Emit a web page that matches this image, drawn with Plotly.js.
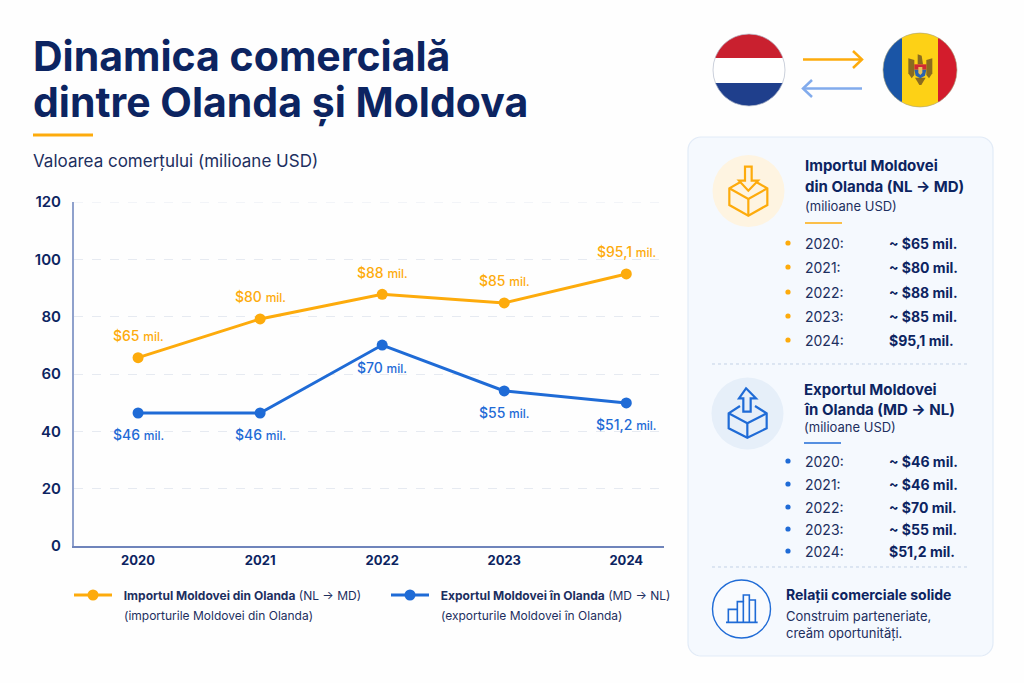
<!DOCTYPE html>
<html><head><meta charset="utf-8">
<script src="https://cdn.plot.ly/plotly-3.0.1.min.js"></script>
<style>html,body{margin:0;padding:0;background:#fefefe}#c{width:1024px;height:683px}</style>
</head><body><div id="c"></div>
<script>
const years = [2020, 2021, 2022, 2023, 2024];
const importValues = [65.7, 79.2, 87.8, 84.8, 94.9];
const exportValues = [46.4, 46.4, 70.1, 54.1, 49.9];
const importLabels = ['$65', '$80', '$88', '$85', '$95,1'];
const exportLabels = ['$46', '$46', '$70', '$55', '$51,2'];
const importPanel = ['~ $65 mil.', '~ $80 mil.', '~ $88 mil.', '~ $85 mil.', '$95,1 mil.'];
const exportPanel = ['~ $46 mil.', '~ $46 mil.', '~ $70 mil.', '~ $55 mil.', '$51,2 mil.'];
const yTicks = [0, 20, 40, 60, 80, 100, 120];

const W = 1024, H = 683;
const FONT = 'Inter, "Noto Sans", sans-serif';
const NAVY = '#0c2461', INK = '#1d2f5f', ORANGE = '#fdab0c', BLUE = '#1f6bd6', GRID = '#e6eaf1';
const px = x => x / W, py = y => 1 - y / H;
const shapes = [], annotations = [];

function poly(pts, o) {
  o = o || {};
  const d = pts.map((p, i) => (i ? 'L' : 'M') + px(p[0]).toFixed(5) + ' ' + py(p[1]).toFixed(5)).join(' ') + (o.close ? ' Z' : '');
  shapes.push({type: 'path', xref: 'paper', yref: 'paper', path: d, layer: o.layer || 'below',
    fillcolor: o.fill || 'rgba(0,0,0,0)', line: {color: o.color || 'rgba(0,0,0,0)', width: o.width === undefined ? 0 : o.width, dash: o.dash || 'solid'}});
}
function circle(cx, cy, r, o) {
  shapes.push({type: 'circle', xref: 'paper', yref: 'paper', x0: px(cx - r), x1: px(cx + r), y0: py(cy + r), y1: py(cy - r), layer: o.layer || 'below',
    fillcolor: o.fill || 'rgba(0,0,0,0)', line: {color: o.color || 'rgba(0,0,0,0)', width: o.width || 0}});
}
function text(x, y, s, size, color, extra) {
  annotations.push(Object.assign({xref: 'paper', yref: 'paper', x: px(x), y: py(y), text: s, showarrow: false, xanchor: 'left', yanchor: 'middle', align: 'left',
    borderpad: 0, font: {family: FONT, size, color}}, extra || {}));
}
function band(cx, cy, r, a0, a1, axis, fill) {
  const pts = [], n = 24;
  const edge = v => Math.sqrt(Math.max(0, r * r - v * v));
  for (let i = 0; i <= n; i++) { const v = a0 + (a1 - a0) * i / n; pts.push(axis === 'y' ? [cx - edge(v - cy), v] : [v, cy - edge(v - cx)]); }
  for (let i = n; i >= 0; i--) { const v = a0 + (a1 - a0) * i / n; pts.push(axis === 'y' ? [cx + edge(v - cy), v] : [v, cy + edge(v - cx)]); }
  poly(pts, {fill, close: true});
}
const rounded = (x0, y0, x1, y1, r) => {
  const pts = [], arc = (cx, cy, a0) => { for (let i = 0; i <= 8; i++) { const a = a0 + i / 8 * Math.PI / 2; pts.push([cx + r * Math.cos(a), cy + r * Math.sin(a)]); } };
  arc(x1 - r, y0 + r, -Math.PI / 2); arc(x1 - r, y1 - r, 0); arc(x0 + r, y1 - r, Math.PI / 2); arc(x0 + r, y0 + r, Math.PI);
  return pts;
};

// Title block
text(32, 55.5, '<b>Dinamica comercială</b>', 41, NAVY);
text(32, 101.5, '<b>dintre Olanda și Moldova</b>', 41, NAVY);
poly([[33, 135], [93, 135]], {color: ORANGE, width: 3});
text(32, 161, 'Valoarea comerțului (milioane USD)', 17, INK);

// Top gridline (Plotly drops a gridline lying on the range end)
shapes.push({type: 'line', xref: 'paper', yref: 'y', x0: px(74), x1: px(664), y0: 120, y1: 120, layer: 'below', line: {color: GRID, width: 1, dash: 'dash'}});

// Flags
band(749, 70, 36, 34, 58, 'y', '#c9202f');
band(749, 70, 36, 58, 83, 'y', '#ffffff');
band(749, 70, 36, 83, 106, 'y', '#1f3f8c');
circle(749, 70, 36, {color: '#b4bbcc', width: 0.7});
band(920, 70, 37, 883, 902, 'x', '#1a55a6');
band(920, 70, 37, 902, 938, 'x', '#fdd116');
band(920, 70, 37, 938, 957, 'x', '#d31c2c');
circle(920, 70, 37, {color: '#a9a27e', width: 0.6});
const ca = p => [895 + p[0] / 3, 45 + p[1] / 3];
const GOLD = '#8a6b20';
poly([[40, 40], [58, 45], [58, 90], [50, 100], [40, 85]].map(ca), {fill: GOLD, close: true});
poly([[112, 40], [94, 45], [94, 90], [102, 100], [112, 85]].map(ca), {fill: GOLD, close: true});
poly([[68, 28], [80, 32], [84, 58], [68, 58]].map(ca), {fill: GOLD, close: true});
poly([[60, 98], [92, 98], [79, 120], [73, 120]].map(ca), {fill: GOLD, close: true});
poly([[58, 58], [94, 58], [94, 74], [58, 74]].map(ca), {fill: '#cf2a33', close: true});
poly([[58, 74], [94, 74], [90, 92], [76, 100], [62, 92]].map(ca), {fill: '#2a62b0', close: true});
poly([[70, 66], [82, 66], [82, 84], [76, 90], [70, 84]].map(ca), {fill: '#e9c45a', close: true});

// Arrows between flags
poly([[803, 59.5], [861, 59.5]], {color: ORANGE, width: 2.5});
poly([[853, 51], [862, 59.5], [853, 68]], {color: ORANGE, width: 2.5});
poly([[862, 88.5], [804, 88.5]], {color: '#82abec', width: 2.5});
poly([[812, 80], [803, 88.5], [812, 97]], {color: '#82abec', width: 2.5});

// Side panel
poly(rounded(688, 137, 993, 656, 13), {fill: '#f5f9fe', color: '#e2ebf7', width: 1.2, close: true});

// Import icon
const zi = p => [690 + p[0] / 3, 20 + p[1] / 3];
circle(748.5, 191, 36, {fill: '#fef4e1'});
const io = {color: ORANGE, width: 2.2};
poly([[165, 440], [185, 440], [185, 482], [204, 482], [175, 512], [147, 482], [165, 482]].map(zi), Object.assign({close: true}, io));
poly([[150, 487], [118, 505], [118, 555], [175, 587], [232, 555], [232, 505], [200, 487]].map(zi), io);
poly([[118, 505], [175, 537], [232, 505]].map(zi), io);
poly([[175, 537], [175, 587]].map(zi), io);

text(803.5, 166, '<b>Importul Moldovei</b>', 15, NAVY);
text(803.5, 186, '<b>din Olanda (NL → MD)</b>', 15, NAVY);
text(803.5, 206, '(milioane USD)', 13, INK);
poly([[805, 223], [842, 223]], {color: ORANGE, width: 1.5});
const importRows = [243, 267, 292, 316, 340];
years.forEach((yr, i) => {
  circle(788, importRows[i], 2.6, {fill: ORANGE});
  text(803.5, importRows[i], yr + ':', 14, INK);
  text(887.5, importRows[i], '<b>' + importPanel[i] + '</b>', 14, NAVY);
});
poly([[712, 364], [968, 364]], {color: '#c3d2e6', width: 1, dash: 'dot'});

// Export icon
const ze = p => [690 + p[0] / 3, 370 + p[1] / 3];
circle(747.5, 413.5, 36, {fill: '#e6eff9'});
const eo = {color: BLUE, width: 2.2};
poly([[168, 55], [198, 85], [182, 85], [182, 125], [160, 125], [160, 85], [147, 85]].map(ze), Object.assign({close: true}, eo));
poly([[150, 108], [116, 130], [116, 175], [172, 203], [230, 175], [230, 130], [195, 108]].map(ze), eo);
poly([[116, 130], [172, 160], [230, 130]].map(ze), eo);
poly([[172, 160], [172, 203]].map(ze), eo);

text(802.5, 389, '<b>Exportul Moldovei</b>', 15, NAVY);
text(802.5, 409, '<b>în Olanda (MD → NL)</b>', 15, NAVY);
text(802.5, 427, '(milioane USD)', 13, INK);
poly([[804, 443], [841, 443]], {color: BLUE, width: 1.5});
const exportRows = [461, 484, 507, 529, 551];
years.forEach((yr, i) => {
  circle(788, exportRows[i], 2.6, {fill: BLUE});
  text(803.5, exportRows[i], yr + ':', 14, INK);
  text(887.5, exportRows[i], '<b>' + exportPanel[i] + '</b>', 14, NAVY);
});
poly([[712, 567], [968, 567]], {color: '#c3d2e6', width: 1, dash: 'dot'});

// Bottom badge
circle(741.5, 609, 29, {color: BLUE, width: 1.4, fill: 'rgba(255,255,255,0.4)'});
const bo = {color: BLUE, width: 1.6};
poly([[108, 757], [203, 757]].map(ze), bo);
poly([[115, 757], [115, 718], [142, 718]].map(ze), bo);
poly([[142, 757], [142, 695], [160, 695], [160, 757]].map(ze), bo);
poly([[160, 695], [160, 675], [178, 675], [178, 757]].map(ze), bo);
poly([[178, 690], [196, 690], [196, 757]].map(ze), bo);
text(784.5, 594, '<b>Relații comerciale solide</b>', 14, NAVY);
text(784.5, 616, 'Construim parteneriate,', 13, INK);
text(784.5, 633, 'creăm oportunități.', 13, INK);

// Legend sub-lines
text(122.5, 615, '(importurile Moldovei din Olanda)', 12, INK);
text(439.5, 615, '(exporturile Moldovei în Olanda)', 12, INK);

// Point labels, anchored to the data
function pointLabels(vals, labels, color, shift) {
  vals.forEach((v, i) => annotations.push({xref: 'x', yref: 'y', x: years[i], y: v, yshift: shift, showarrow: false, xanchor: 'center', yanchor: 'middle',
    text: labels[i] + ' <span style="font-size:12px">mil.</span>', font: {family: FONT, size: 14, color, weight: 500}}));
}
pointLabels(importValues, importLabels, ORANGE, 22);
pointLabels(exportValues, exportLabels, BLUE, -22);

const traces = [
  {x: years, y: importValues, name: '\u00a0\u00a0<b>Importul Moldovei din Olanda</b> (NL → MD)', mode: 'lines+markers', cliponaxis: false,
   line: {color: ORANGE, width: 3}, marker: {color: ORANGE, size: 11}},
  {x: years, y: exportValues, name: '\u00a0\u00a0<b>Exportul Moldovei în Olanda</b> (MD → NL)', mode: 'lines+markers', cliponaxis: false,
   line: {color: BLUE, width: 3}, marker: {color: BLUE, size: 11}}
];
const layout = {
  width: W, height: H, margin: {l: 0, r: 0, t: 0, b: 0}, autosize: false,
  paper_bgcolor: '#fefefe', plot_bgcolor: 'rgba(0,0,0,0)', showlegend: true, hovermode: false,
  font: {family: FONT, color: INK},
  xaxis: {domain: [px(73.75), px(664)], range: [2019.473, 2024.309], tickmode: 'array', tickvals: years, ticktext: years.map(String),
    showgrid: false, zeroline: false, showline: true, linecolor: '#6f84bb', linewidth: 1.5, ticks: '', ticklabelstandoff: 2,
    tickfont: {family: FONT, size: 13, color: NAVY, weight: 700}},
  yaxis: {domain: [py(546), py(202)], range: [0, 120], tickmode: 'array', tickvals: yTicks, ticktext: yTicks.map(String),
    showgrid: true, gridcolor: GRID, griddash: 'dash', gridwidth: 1, zeroline: false, showline: true, linecolor: '#8fa1cc', linewidth: 1.5, ticks: '', ticklabelstandoff: 8,
    tickfont: {family: FONT, size: 15, color: NAVY, weight: 600}},
  legend: {orientation: 'h', x: px(69), y: py(595), xanchor: 'left', yanchor: 'middle', bgcolor: 'rgba(0,0,0,0)', itemwidth: 38, itemclick: false, itemdoubleclick: false,
    entrywidthmode: 'pixels', entrywidth: 264, font: {family: FONT, size: 12, color: INK}},
  shapes, annotations
};
Plotly.newPlot('c', traces, layout, {displayModeBar: false, responsive: false});
</script></body></html>
